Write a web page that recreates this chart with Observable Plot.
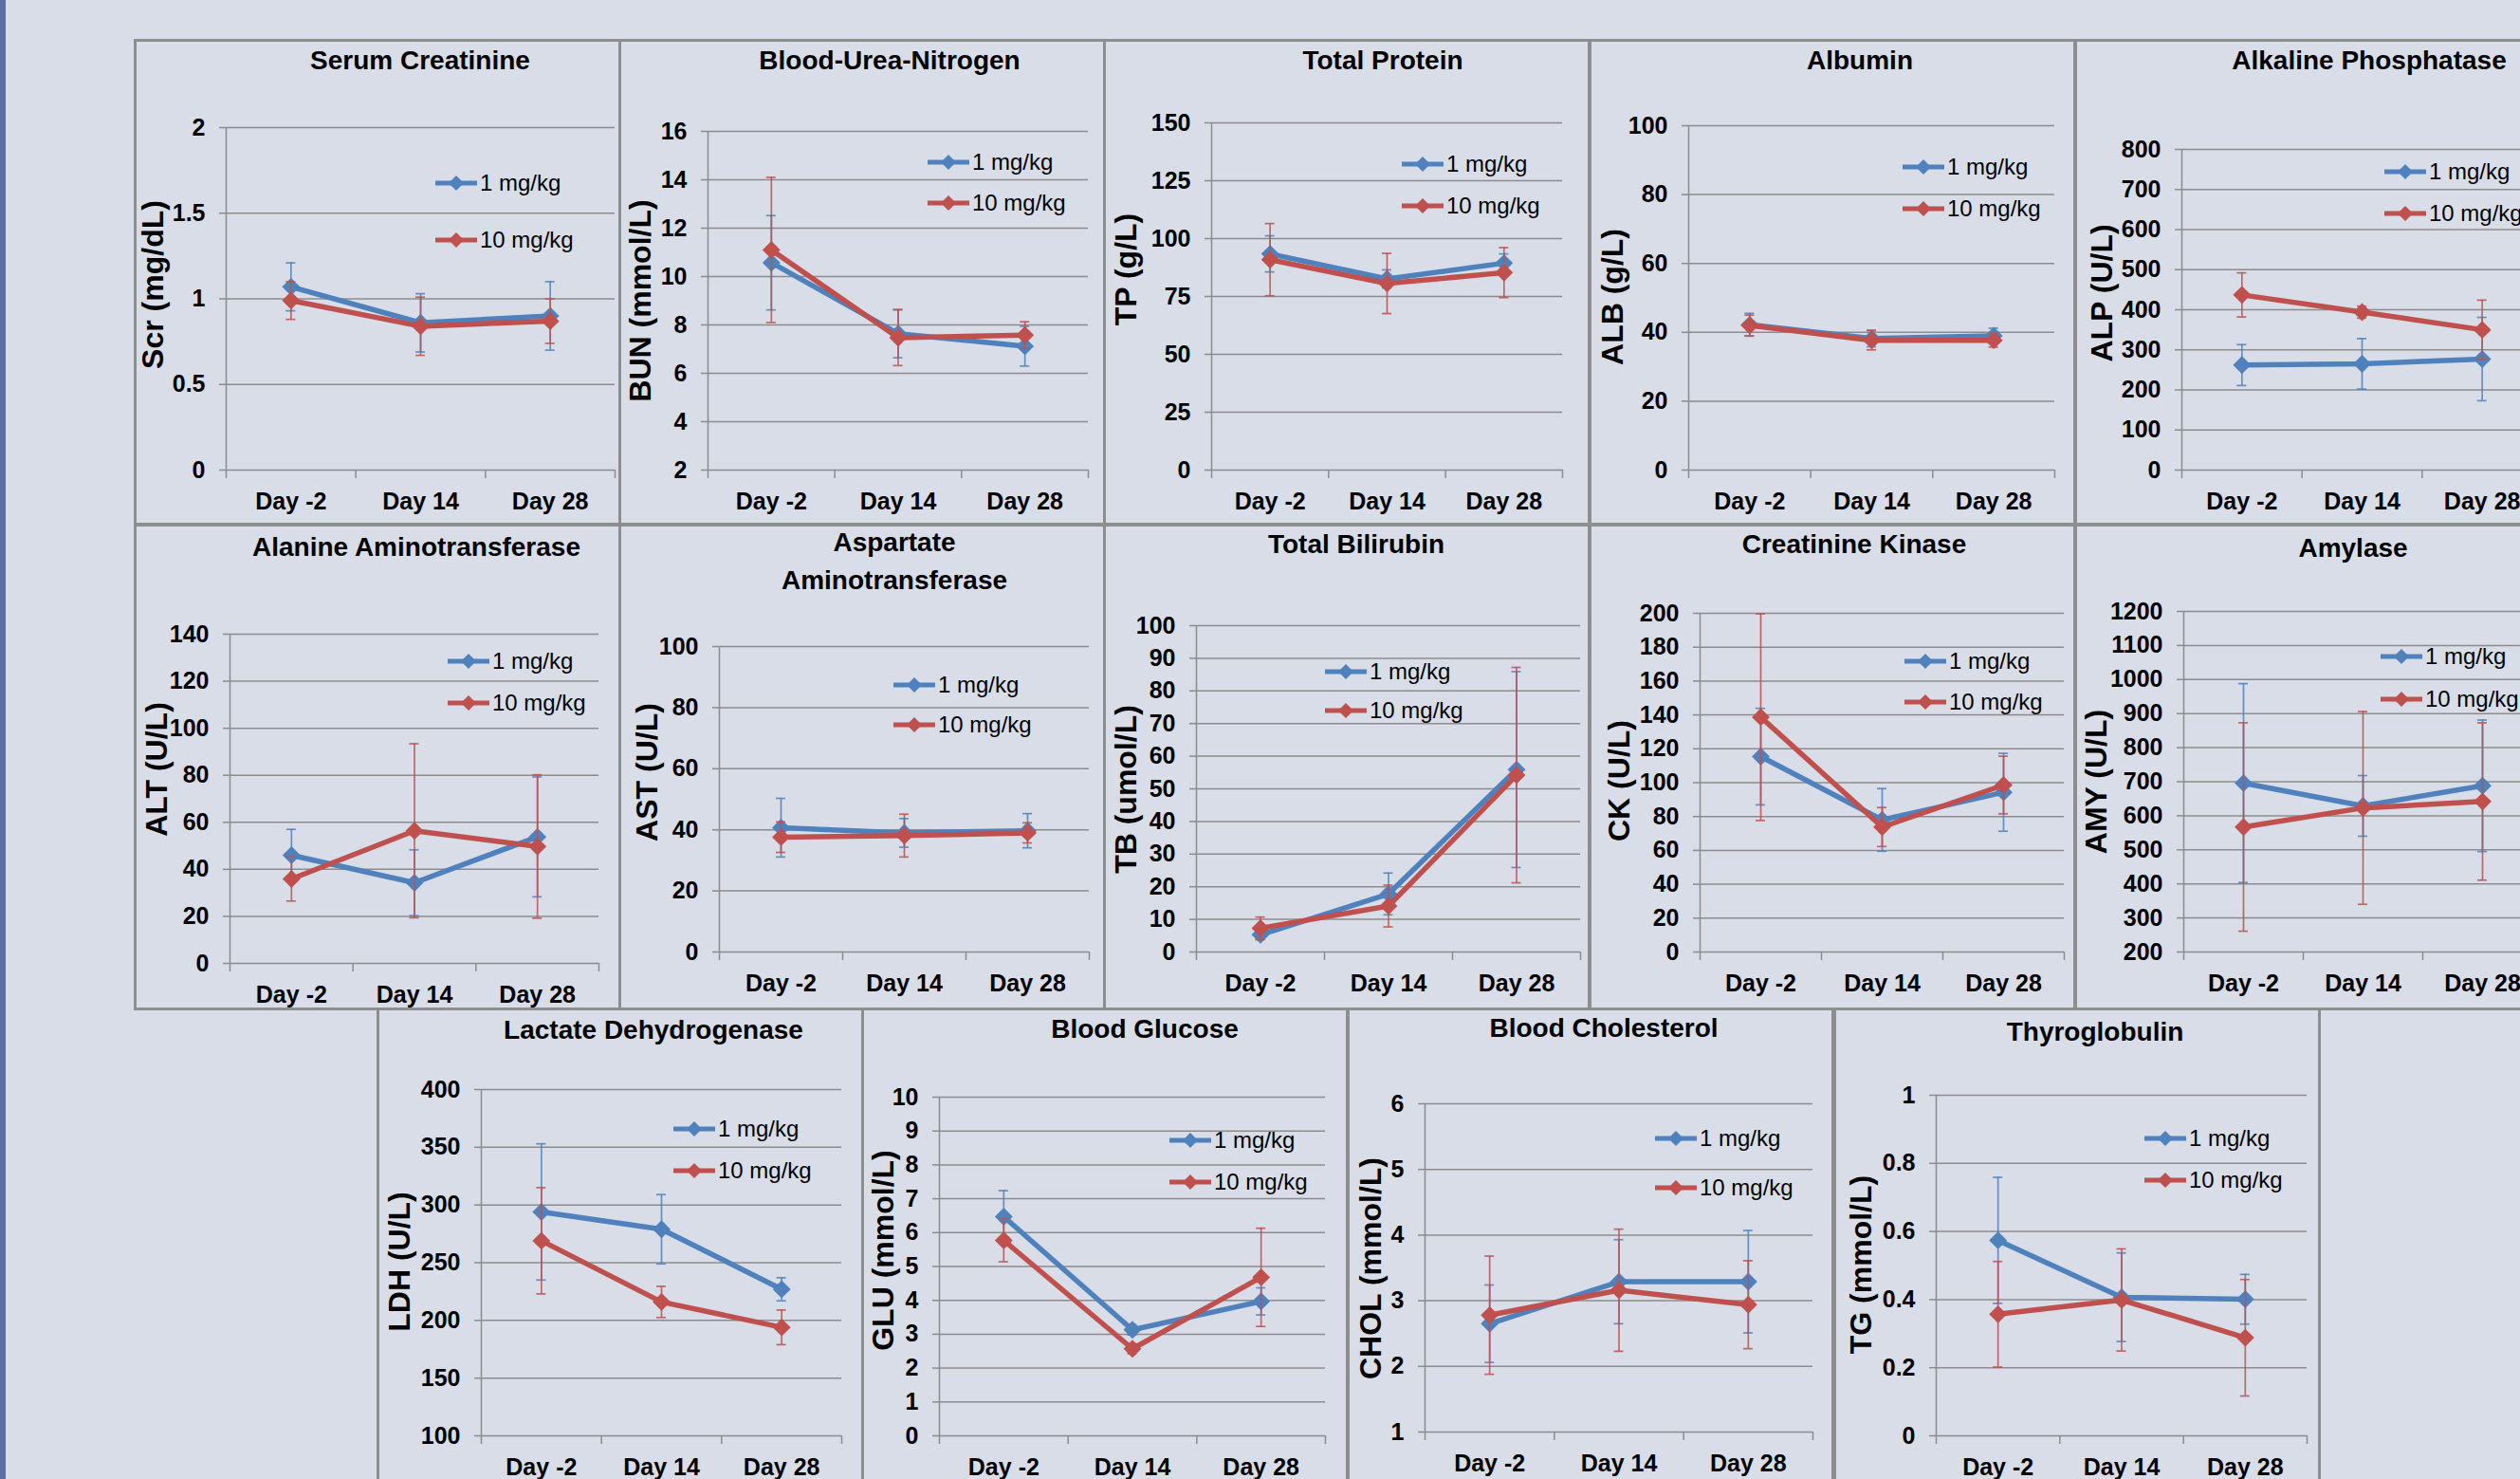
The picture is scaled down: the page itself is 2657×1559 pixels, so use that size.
<!DOCTYPE html>
<html><head><meta charset="utf-8">
<script src="https://cdn.jsdelivr.net/npm/d3@7"></script>
<script src="https://cdn.jsdelivr.net/npm/@observablehq/plot@0.6"></script>
<style>
html,body{margin:0;padding:0;}
body{width:2657px;height:1559px;overflow:hidden;background:#d8dde7;position:relative;font-family:"Liberation Sans",Arial,sans-serif;color:#000;}
#strip{position:absolute;left:0;top:0;width:6px;height:1559px;background:#5c6fa3;}
.panel{position:absolute;width:514px;height:514px;}
.frame{position:absolute;left:0;top:0;width:514px;height:514px;box-sizing:border-box;border:3px solid #8e8e8e;pointer-events:none;}
.ptitle{position:absolute;font-weight:bold;font-size:28px;line-height:40px;white-space:pre;text-align:center;transform:translateX(-50%);}
.ylab{position:absolute;font-weight:bold;font-size:32px;line-height:32px;white-space:nowrap;transform:translate(-50%,-50%) rotate(-90deg);}
.leg{position:absolute;display:flex;align-items:center;height:30px;transform:translateY(-50%);font-size:24px;white-space:nowrap;}
.leg svg{margin-right:3px;}
</style>
</head><body>
<div id="strip"></div>
<div id="root"></div>
<script>
// ---------- data ----------
const days = ["Day -2", "Day 14", "Day 28"];
const doses = ["1 mg/kg", "10 mg/kg"];
const titles = ["Serum Creatinine", "Blood-Urea-Nitrogen", "Total Protein", "Albumin", "Alkaline Phosphatase",
  "Alanine Aminotransferase", "Aspartate\nAminotransferase", "Total Bilirubin", "Creatinine Kinase", "Amylase",
  "Lactate Dehydrogenase", "Blood Glucose", "Blood Cholesterol", "Thyroglobulin"];
const yLabels = ["Scr (mg/dL)", "BUN (mmol/L)", "TP (g/L)", "ALB (g/L)", "ALP (U/L)",
  "ALT (U/L)", "AST (U/L)", "TB (umol/L)", "CK (U/L)", "AMY (U/L)",
  "LDH (U/L)", "GLU (mmol/L)", "CHOL (mmol/L)", "TG (mmol/L)"];

const scrTicks = [0, 0.5, 1, 1.5, 2];
const bunTicks = [2, 4, 6, 8, 10, 12, 14, 16];
const tpTicks = [0, 25, 50, 75, 100, 125, 150];
const albTicks = [0, 20, 40, 60, 80, 100];
const alpTicks = [0, 100, 200, 300, 400, 500, 600, 700, 800];
const altTicks = [0, 20, 40, 60, 80, 100, 120, 140];
const astTicks = [0, 20, 40, 60, 80, 100];
const tbTicks = [0, 10, 20, 30, 40, 50, 60, 70, 80, 90, 100];
const ckTicks = [0, 20, 40, 60, 80, 100, 120, 140, 160, 180, 200];
const amyTicks = [200, 300, 400, 500, 600, 700, 800, 900, 1000, 1100, 1200];
const ldhTicks = [100, 150, 200, 250, 300, 350, 400];
const gluTicks = [0, 1, 2, 3, 4, 5, 6, 7, 8, 9, 10];
const cholTicks = [1, 2, 3, 4, 5, 6];
const tgTicks = [0, 0.2, 0.4, 0.6, 0.8, 1];

// means [1 mg/kg, 10 mg/kg] and SD error bars
const scrMean = [[1.07, 0.86, 0.90], [0.99, 0.84, 0.87]];
const scrSd = [[0.14, 0.17, 0.20], [0.11, 0.17, 0.13]];
const bunMean = [[10.57, 7.64, 7.12], [11.1, 7.47, 7.58]];
const bunSd = [[1.95, 1.0, 0.82], [3.0, 1.15, 0.55]];
const tpMean = [[93.4, 82.6, 89.4], [90.9, 80.6, 85.3]];
const tpSd = [[7.8, 3.9, 4.0], [15.6, 13.0, 10.8]];
const albMean = [[42.2, 38.2, 39.0], [42.0, 37.7, 37.7]];
const albSd = [[3.3, 2.4, 2.2], [3.0, 2.8, 2.0]];
const alpMean = [[262, 265, 277], [437, 394, 350]];
const alpSd = [[51, 63, 104], [55, 15, 74]];
const altMean = [[46.0, 34.3, 53.8], [35.9, 56.4, 49.7]];
const altSd = [[11.0, 14.0, 25.5], [9.4, 37.0, 30.5]];
const astMean = [[40.7, 39.0, 39.7], [37.6, 38.1, 39.0]];
const astSd = [[9.6, 4.7, 5.6], [5.0, 7.0, 3.3]];
const tbMean = [[5.3, 17.8, 55.9], [7.3, 14.1, 54.2]];
const tbSd = [[1.5, 6.4, 30.0], [3.4, 6.4, 33.0]];
const ckMean = [[115.4, 78.0, 94.3], [138.7, 73.8, 98.6]];
const ckSd = [[28.5, 18.5, 23.0], [61.0, 11.5, 17.0]];
const amyMean = [[696, 629, 688], [567, 623, 642]];
const amySd = [[292, 89, 193], [306, 283, 231]];
const ldhMean = [[294, 279, 227], [269, 216, 194]];
const ldhSd = [[59, 30, 10], [46, 13.5, 15]];
const gluMean = [[6.47, 3.13, 3.97], [5.77, 2.57, 4.68]];
const gluSd = [[0.77, 0.15, 0.40], [0.63, 0.15, 1.45]];
const cholMean = [[2.65, 3.29, 3.29], [2.78, 3.16, 2.94]];
const cholSd = [[0.59, 0.64, 0.78], [0.90, 0.93, 0.67]];
const tgMean = [[0.574, 0.407, 0.401], [0.357, 0.399, 0.288]];
const tgSd = [[0.185, 0.13, 0.073], [0.155, 0.15, 0.171]];

const panelData = [
  [scrTicks, scrMean, scrSd], [bunTicks, bunMean, bunSd], [tpTicks, tpMean, tpSd], [albTicks, albMean, albSd], [alpTicks, alpMean, alpSd],
  [altTicks, altMean, altSd], [astTicks, astMean, astSd], [tbTicks, tbMean, tbSd], [ckTicks, ckMean, ckSd], [amyTicks, amyMean, amySd],
  [ldhTicks, ldhMean, ldhSd], [gluTicks, gluMean, gluSd], [cholTicks, cholMean, cholSd], [tgTicks, tgMean, tgSd]
];

// ---------- layout (panel position, plot box, title, y label, legend) ----------
const layout = [
  {px: 141, py: 41, L: 97, R: 507, T: 93, B: 454, tx: 302, tb: 33, lx: 20, ly: 259, gx: 318, g1: 152, g2: 212},
  {px: 652, py: 41, L: 94, R: 495, T: 97, B: 454, tx: 286, tb: 33, lx: 23, ly: 276, gx: 326, g1: 130, g2: 173},
  {px: 1163, py: 41, L: 114, R: 484, T: 88, B: 454, tx: 295, tb: 33, lx: 24, ly: 243, gx: 315, g1: 132, g2: 176},
  {px: 1675, py: 41, L: 105, R: 491, T: 91, B: 454, tx: 286, tb: 33, lx: 25, ly: 272, gx: 331, g1: 135, g2: 179},
  {px: 2187, py: 41, L: 113, R: 493, T: 116, B: 454, tx: 311, tb: 33, lx: 29, ly: 268, gx: 327, g1: 140, g2: 184},
  {px: 141, py: 551, L: 101, R: 490, T: 117, B: 464, tx: 298, tb: 36, lx: 24, ly: 260, gx: 331, g1: 146, g2: 190},
  {px: 652, py: 551, L: 106, R: 496, T: 130, B: 452, tx: 291, tb: 31, lx: 30, ly: 263, gx: 290, g1: 171, g2: 213},
  {px: 1163, py: 551, L: 98, R: 503, T: 108, B: 452, tx: 267, tb: 33, lx: 24, ly: 281, gx: 234, g1: 157, g2: 198},
  {px: 1675, py: 551, L: 117, R: 501, T: 95, B: 452, tx: 280, tb: 33, lx: 32, ly: 272, gx: 333, g1: 146, g2: 189},
  {px: 2187, py: 551, L: 115, R: 493, T: 93, B: 452, tx: 294, tb: 37, lx: 23, ly: 273, gx: 323, g1: 141, g2: 186},
  {px: 397, py: 1062, L: 110, R: 490, T: 86, B: 451, tx: 292, tb: 34, lx: 24, ly: 268, gx: 313, g1: 128, g2: 172},
  {px: 908, py: 1062, L: 82, R: 489, T: 94, B: 451, tx: 299, tb: 33, lx: 23, ly: 256, gx: 325, g1: 140, g2: 184},
  {px: 1420, py: 1062, L: 82, R: 491, T: 101, B: 447, tx: 271, tb: 32, lx: 25, ly: 275, gx: 325, g1: 138, g2: 190},
  {px: 1933, py: 1062, L: 108, R: 499, T: 92, B: 451, tx: 276, tb: 36, lx: 29, ly: 271, gx: 328, g1: 138, g2: 182}
];

const colors = ["#4F81BD", "#C0504D"];
const GRID = "#8c8c8c";
const SIZE = 514;

function makePlot(k) {
  const [ticks, mean, sd] = panelData[k];
  const L = layout[k];
  const rows = [];
  doses.forEach((dose, s) => days.forEach((day, i) => rows.push({s, i, dose, day, m: mean[s][i], e: sd[s][i]})));
  const marks = [
    Plot.gridY(ticks, {stroke: GRID, strokeOpacity: 1, strokeWidth: 1.5}),
    Plot.ruleX([-0.5], {stroke: GRID, strokeWidth: 1.5}),
    Plot.axisY({ticks, tickSize: 7, tickPadding: 15, stroke: GRID, strokeWidth: 1.5, fill: "#000", tickFormat: d => String(d), label: null}),
    Plot.axisX({ticks: [-0.5, 0.5, 1.5, 2.5], tickSize: 9, tickFormat: () => "", stroke: GRID, strokeWidth: 1.5, label: null}),
    Plot.axisX({ticks: [0, 1, 2], tickSize: 0, tickPadding: 24, tickFormat: i => days[i], fill: "#000", label: null})
  ];
  for (const s of [0, 1]) {
    const d = rows.filter(r => r.s === s);
    const c = colors[s];
    marks.push(
      Plot.ruleX(d, {x: "i", y1: r => r.m - r.e, y2: r => r.m + r.e, stroke: c, strokeWidth: 1.7, strokeOpacity: 0.85}),
      Plot.ruleY(d, {x1: "i", x2: "i", y: r => r.m + r.e, insetLeft: -5, insetRight: -5, stroke: c, strokeWidth: 1.7, strokeOpacity: 0.85}),
      Plot.ruleY(d, {x1: "i", x2: "i", y: r => r.m - r.e, insetLeft: -5, insetRight: -5, stroke: c, strokeWidth: 1.7, strokeOpacity: 0.85}),
      Plot.line(d, {x: "i", y: "m", stroke: c, strokeWidth: 5.5, strokeLinejoin: "round"}),
      Plot.dot(d, {x: "i", y: "m", symbol: "diamond2", r: 8.5, fill: c, stroke: null})
    );
  }
  const svg = Plot.plot({
    width: SIZE, height: SIZE,
    marginLeft: L.L, marginRight: SIZE - L.R, marginTop: L.T, marginBottom: SIZE - L.B,
    x: {domain: [-0.5, 2.5]},
    y: {domain: [ticks[0], ticks[ticks.length - 1]]},
    style: {background: "transparent", fontFamily: '"Liberation Sans", Arial, sans-serif', fontSize: "25px", fontWeight: "bold", color: "#000", overflow: "visible"},
    marks
  });
  svg.style.position = "absolute";
  svg.style.left = "0px";
  svg.style.top = "0px";
  return svg;
}

function legendRow(color, text, x, y) {
  const row = document.createElement("div");
  row.className = "leg";
  row.style.left = x + "px";
  row.style.top = y + "px";
  row.innerHTML = `<svg width="44" height="20" viewBox="0 0 44 20"><line x1="0" y1="10" x2="44" y2="10" stroke="${color}" stroke-width="5"/><polygon points="22,2 30,10 22,18 14,10" fill="${color}"/></svg><span>${text}</span>`;
  return row;
}

const root = document.getElementById("root");
layout.forEach((L, k) => {
  const p = document.createElement("div");
  p.className = "panel";
  p.style.left = L.px + "px";
  p.style.top = L.py + "px";
  p.appendChild(makePlot(k));
  const t = document.createElement("div");
  t.className = "ptitle";
  t.textContent = titles[k];
  t.style.left = L.tx + "px";
  t.style.top = (L.tb - 29.7) + "px";
  p.appendChild(t);
  const yl = document.createElement("div");
  yl.className = "ylab";
  yl.textContent = yLabels[k];
  yl.style.left = L.lx + "px";
  yl.style.top = L.ly + "px";
  p.appendChild(yl);
  p.appendChild(legendRow(colors[0], doses[0], L.gx, L.g1));
  p.appendChild(legendRow(colors[1], doses[1], L.gx, L.g2));
  const f = document.createElement("div");
  f.className = "frame";
  p.appendChild(f);
  root.appendChild(p);
});
</script>
</body></html>
